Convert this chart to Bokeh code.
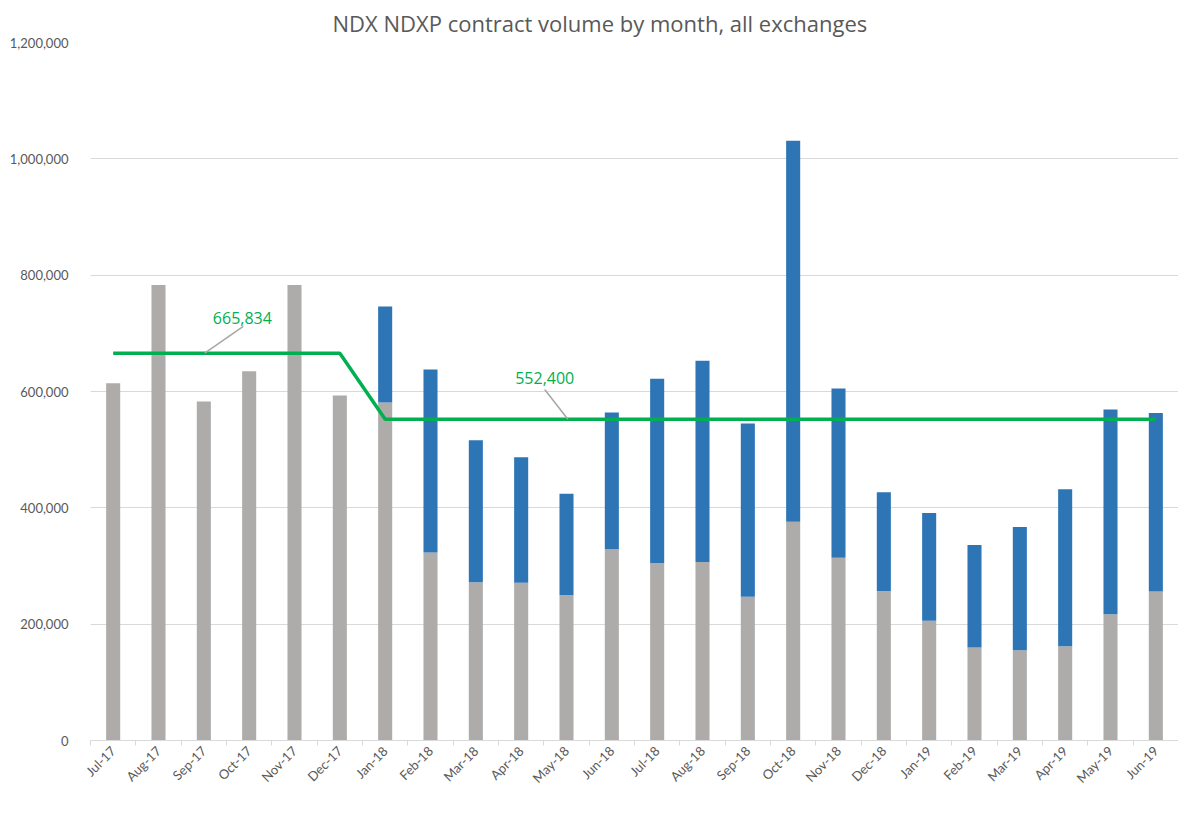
from bokeh.plotting import figure
from bokeh.models import (ColumnDataSource, FixedTicker, NumeralTickFormatter, Legend,
                          LegendItem, Label, Segment, Range1d)
from bokeh.embed import file_html
from bokeh.resources import INLINE
import math

months = ["Jul-17", "Aug-17", "Sep-17", "Oct-17", "Nov-17", "Dec-17",
          "Jan-18", "Feb-18", "Mar-18", "Apr-18", "May-18", "Jun-18",
          "Jul-18", "Aug-18", "Sep-18", "Oct-18", "Nov-18", "Dec-18",
          "Jan-19", "Feb-19", "Mar-19", "Apr-19", "May-19", "Jun-19"]
ndx = [614000, 783000, 583000, 635000, 783000, 593000,
       581000, 323000, 272000, 271000, 250000, 329000,
       305000, 307000, 247000, 376000, 314000, 257000,
       206000, 160000, 155000, 162000, 217000, 256000]
ndxp = [0, 0, 0, 0, 0, 0,
        165000, 315000, 244000, 216000, 174000, 235000,
        317000, 346000, 298000, 655000, 291000, 170000,
        185000, 176000, 212000, 270000, 352000, 307000]
average = [665834, 665834, 665834, 665834, 665834, 665834,
           552400, 552400, 552400, 552400, 552400, 552400,
           552400, 552400, 552400, 552400, 552400, 552400,
           552400, 552400, 552400, 552400, 552400, 552400]
avg_labels = ["665,834", "552,400"]
y_ticks = [0, 200000, 400000, 600000, 800000, 1000000, 1200000]

FONT = "Lato"
GRAY_TXT = "#595959"
C_NDX = "#AEABAB"
C_NDXP = "#2E75B6"
C_AVG = "#00B050"

idx = list(range(len(months)))
src = ColumnDataSource(dict(x=idx, ndx=ndx, ndxp=ndxp, avg=average))

p = figure(frame_width=1088, frame_height=698, output_backend="svg", toolbar_location=None,
           x_range=Range1d(-0.5, len(months) - 0.5), y_range=Range1d(0, 1200000),
           min_border_left=90, min_border_right=0, min_border_top=42, min_border_bottom=4)

p.title.text = "NDX NDXP contract volume by month, all exchanges"
p.title.align = "left"
p.title.text_font = "Open Sans"
p.title.text_font_size = "22px"
p.title.text_font_style = "normal"
p.title.text_color = GRAY_TXT
p.title.offset = 242
p.title.standoff = 10
p.outline_line_color = None

bars = p.vbar_stack(["ndx", "ndxp"], x="x", width=0.31, source=src,
                    color=[C_NDX, C_NDXP], line_color=None)
avg_line = p.line("x", "avg", source=src, line_color=C_AVG, line_width=3.5)

# y axis
p.yaxis.ticker = FixedTicker(ticks=y_ticks)
p.yaxis.formatter = NumeralTickFormatter(format="0,0")
p.yaxis.axis_line_color = None
p.yaxis.major_tick_line_color = None
p.yaxis.minor_tick_line_color = None
p.yaxis.major_label_text_font = FONT
p.yaxis.major_label_text_font_size = "13px"
p.yaxis.major_label_text_color = GRAY_TXT
p.yaxis.major_label_standoff = 16
p.ygrid.grid_line_color = "#D9D9D9"
p.ygrid.ticker = FixedTicker(ticks=y_ticks)
p.xgrid.grid_line_color = None

# x axis: labels at centres, ticks between categories
p.xaxis.ticker = FixedTicker(ticks=idx, minor_ticks=[i - 0.5 for i in range(len(months) + 1)])
p.xaxis.major_label_overrides = {i: m for i, m in zip(idx, months)}
p.xaxis.major_label_orientation = math.pi / 4
p.xaxis.major_label_text_font = FONT
p.xaxis.major_label_text_font_size = "13px"
p.xaxis.major_label_text_color = GRAY_TXT
p.xaxis.major_label_standoff = 3
p.xaxis.axis_line_color = "#D9D9D9"
p.xaxis.major_tick_line_color = None
p.xaxis.major_tick_out = 0
p.xaxis.major_tick_in = 0
p.xaxis.minor_tick_line_color = "#D9D9D9"
p.xaxis.minor_tick_in = 0
p.xaxis.minor_tick_out = 5

# average annotations with leader lines
seg_src = ColumnDataSource(dict(
    x0=[2.02, 10.03], y0=[average[0], average[6]],
    x1=[2.87, 9.52], y1=[average[0] + 46000, average[6] + 51000]))
p.add_glyph(seg_src, Segment(x0="x0", y0="y0", x1="x1", y1="y1",
                             line_color="#A6A6A6", line_width=1.5))
for xi, yi, txt in [(2.85, average[0] + 60000, avg_labels[0]),
                    (9.52, average[6] + 70000, avg_labels[1])]:
    p.add_layout(Label(x=xi, y=yi, text=txt, text_align="center", text_baseline="middle",
                       text_font="Open Sans", text_font_size="16px", text_color="#00B050"))

legend = Legend(items=[LegendItem(label="NDX", renderers=[bars[0]]),
                       LegendItem(label="NDXP", renderers=[bars[1]]),
                       LegendItem(label="Average", renderers=[avg_line])],
                orientation="horizontal", location="center",
                label_text_font=FONT, label_text_font_size="13px", label_text_color=GRAY_TXT,
                glyph_width=30, glyph_height=9, spacing=20, padding=0, margin=0,
                border_line_color=None, background_fill_alpha=0, label_standoff=3,
                label_height=14)
p.add_layout(legend, "below")

open("out.html", "w").write(file_html(p, INLINE))
